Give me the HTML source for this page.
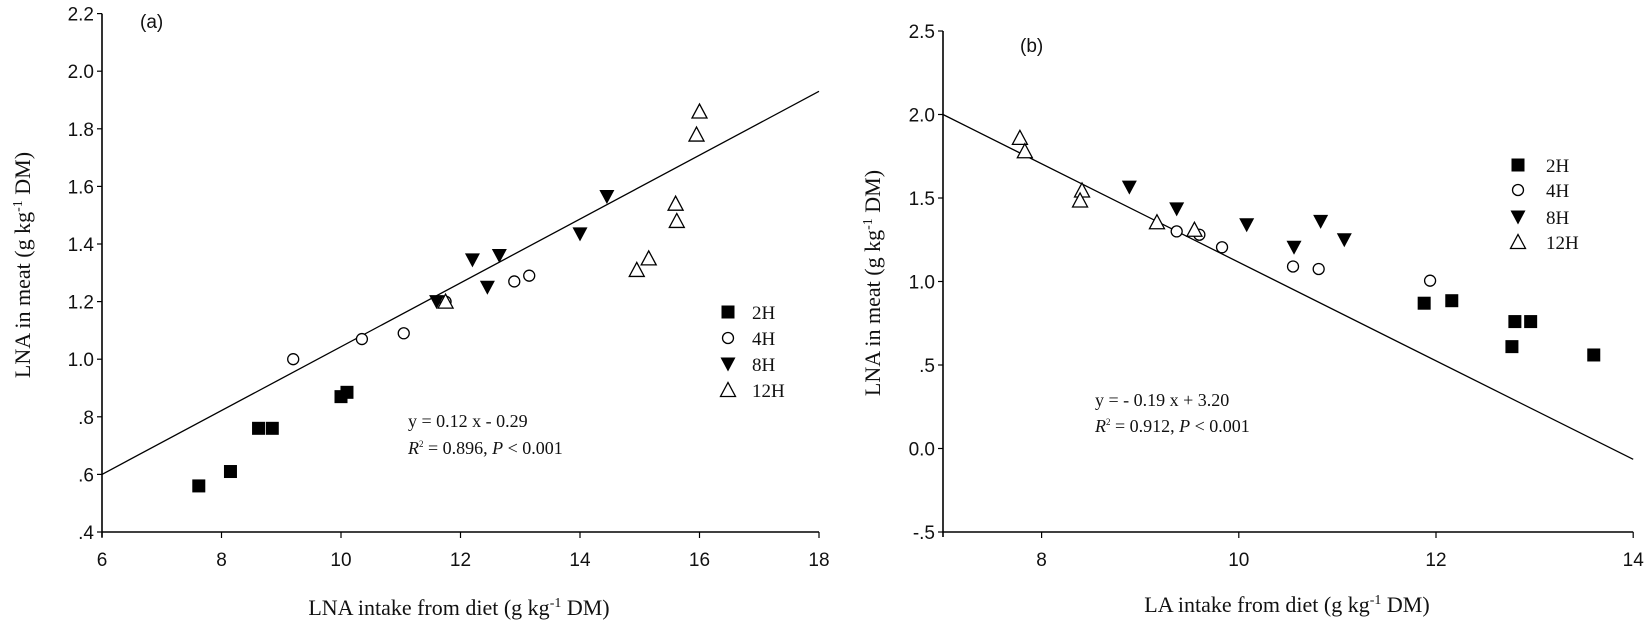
<!DOCTYPE html>
<html><head><meta charset="utf-8">
<style>
html,body{margin:0;padding:0;background:#fff;}
svg{display:block;}
.tk{font-family:"Liberation Sans",Arial,sans-serif;font-size:19px;fill:#111;}
.tt{font-family:"Liberation Serif",serif;font-size:22px;fill:#111;}
.lg{font-family:"Liberation Serif",serif;font-size:19px;fill:#111;}
.eq{font-family:"Liberation Serif",serif;font-size:18px;fill:#111;}
</style></head>
<body>
<svg id="s" width="1650" height="630" viewBox="0 0 1650 630" xmlns="http://www.w3.org/2000/svg">
<text class="tk" x="140" y="28">(a)</text>
<text class="tk" x="1020" y="52">(b)</text>
<text class="tt" transform="translate(30,265) rotate(-90)" text-anchor="middle">LNA in meat (g kg<tspan dy="-8" font-size="14">-1</tspan><tspan dy="8"> DM)</tspan></text>
<text class="tt" x="459" y="615" text-anchor="middle">LNA intake from diet (g kg<tspan dy="-8" font-size="14">-1</tspan><tspan dy="8"> DM)</tspan></text>
<text class="tt" transform="translate(880,283) rotate(-90)" text-anchor="middle">LNA in meat (g kg<tspan dy="-8" font-size="14">-1</tspan><tspan dy="8"> DM)</tspan></text>
<text class="tt" x="1287" y="612" text-anchor="middle">LA intake from diet (g kg<tspan dy="-8" font-size="14">-1</tspan><tspan dy="8"> DM)</tspan></text>
<text class="eq" x="408" y="427">y = 0.12 x - 0.29</text>
<text class="eq" x="408" y="454"><tspan font-style="italic">R</tspan><tspan dy="-7" font-size="9">2</tspan><tspan dy="7"> = 0.896, </tspan><tspan font-style="italic">P</tspan> &lt; 0.001</text>
<text class="eq" x="1095" y="406">y = - 0.19 x + 3.20</text>
<text class="eq" x="1095" y="432"><tspan font-style="italic">R</tspan><tspan dy="-7" font-size="9">2</tspan><tspan dy="7"> = 0.912, </tspan><tspan font-style="italic">P</tspan> &lt; 0.001</text>
</svg>
<script>
var s=document.getElementById('s'),NS='http://www.w3.org/2000/svg';
function el(t,a,txt){var e=document.createElementNS(NS,t);for(var k in a)e.setAttribute(k,a[k]);if(txt!=null)e.textContent=txt;s.appendChild(e);return e;}
function mk(type,x,y){
 if(type==0)el('rect',{x:x-6.5,y:y-6.5,width:13,height:13,fill:'#000'});
 else if(type==1)el('circle',{cx:x,cy:y,r:5.5,fill:'#fff',stroke:'#000','stroke-width':1.3});
 else if(type==2)el('polygon',{points:(x-7.5)+','+(y-6.5)+' '+(x+7.5)+','+(y-6.5)+' '+x+','+(y+7.5),fill:'#000'});
 else el('polygon',{points:(x-7.5)+','+(y+6.5)+' '+(x+7.5)+','+(y+6.5)+' '+x+','+(y-7.5),fill:'#fff',stroke:'#000','stroke-width':1.3});
}
function panel(P){
 var px=function(v){return P.x0+(v-P.xmin)*P.xs},py=function(v){return P.yb-(v-P.ymin)*P.ys};
 el('line',{x1:P.x0,y1:P.yb,x2:px(P.xmax),y2:P.yb,stroke:'#000','stroke-width':1.6});
 el('line',{x1:P.x0,y1:P.yb+5,x2:P.x0,y2:py(P.ymax),stroke:'#000','stroke-width':1.6});
 P.yt.forEach(function(t){var y=py(t[0]);el('line',{x1:P.x0-5,y1:y,x2:P.x0,y2:y,stroke:'#000','stroke-width':1.2});el('text',{'class':'tk',x:P.x0-8,y:y+7,'text-anchor':'end'},t[1]);});
 P.xt.forEach(function(t){var x=px(t);el('line',{x1:x,y1:P.yb,x2:x,y2:P.yb+6,stroke:'#000','stroke-width':1.2});el('text',{'class':'tk',x:x,y:P.yb+34,'text-anchor':'middle'},String(t));});
 el('line',{x1:px(P.l[0]),y1:py(P.l[1]),x2:px(P.l[2]),y2:py(P.l[3]),stroke:'#000','stroke-width':1.3});
 P.d.forEach(function(ser,i){ser.forEach(function(p){mk(i,px(p[0]),py(p[1]));});});
 ['2H','4H','8H','12H'].forEach(function(n,i){mk(i,P.lx,P.ly[i]);el('text',{'class':'lg',x:P.lx+P.lo,y:P.ly[i]+7},n);});
}
panel({x0:102,xmin:6,xmax:18,xs:59.75,yb:532,ymin:0.4,ymax:2.2,ys:288,
 yt:[[0.4,'.4'],[0.6,'.6'],[0.8,'.8'],[1.0,'1.0'],[1.2,'1.2'],[1.4,'1.4'],[1.6,'1.6'],[1.8,'1.8'],[2.0,'2.0'],[2.2,'2.2']],
 xt:[6,8,10,12,14,16,18], l:[6,0.6,18,1.93],
 d:[[[7.62,0.56],[8.15,0.61],[8.62,0.76],[8.85,0.76],[10.0,0.87],[10.1,0.885]],
    [[9.2,1.0],[10.35,1.07],[11.05,1.09],[11.75,1.2],[12.9,1.27],[13.15,1.29]],
    [[11.6,1.2],[12.2,1.345],[12.45,1.25],[12.65,1.36],[14.0,1.435],[14.45,1.565]],
    [[11.75,1.2],[14.95,1.31],[15.15,1.35],[15.6,1.54],[15.62,1.48],[15.95,1.78],[16.0,1.86]]],
 lx:728,lo:24,ly:[312,338,364,390]});
panel({x0:943,xmin:7,xmax:14,xs:98.6,yb:532,ymin:-0.5,ymax:2.5,ys:167,
 yt:[[-0.5,'-.5'],[0,'0.0'],[0.5,'.5'],[1.0,'1.0'],[1.5,'1.5'],[2.0,'2.0'],[2.5,'2.5']],
 xt:[8,10,12,14], l:[7,2.0,14,-0.065],
 d:[[[11.88,0.87],[12.16,0.885],[12.80,0.76],[12.96,0.76],[12.77,0.61],[13.60,0.56]],
    [[9.37,1.30],[9.60,1.28],[9.83,1.205],[10.55,1.09],[10.81,1.075],[11.94,1.005]],
    [[8.89,1.565],[9.37,1.435],[10.08,1.34],[10.56,1.205],[10.83,1.36],[11.07,1.25]],
    [[7.78,1.86],[7.83,1.78],[8.41,1.545],[8.39,1.485],[9.17,1.355],[9.55,1.31]]],
 lx:1518,lo:28,ly:[165,190,217,242]});
</script>
</body></html>
